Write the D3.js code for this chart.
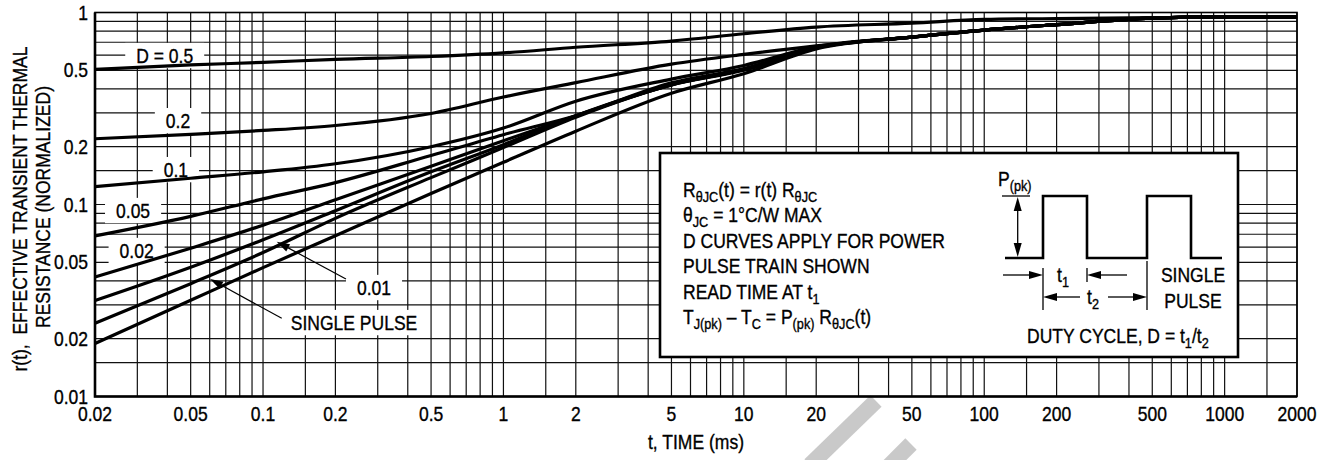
<!DOCTYPE html>
<html>
<head>
<meta charset="utf-8">
<script src="https://cdn.jsdelivr.net/npm/d3@7"></script>
<style>
  body { margin: 0; background: #fff; }
  svg text {
    font-family: "Liberation Sans", Arial, sans-serif;
    font-size: 20px;
    fill: #000;
    stroke: #000;
    stroke-width: 0.35px;
    white-space: pre;
  }
</style>
</head>
<body>
<svg id="chart" width="1330" height="460"></svg>
<script>
// t in ms, r(t) normalized
const timesMs = [0.02, 0.05, 0.1, 0.2, 0.5, 1, 2, 5, 10, 20, 50, 100, 200, 500, 1000, 2000];

const rD050 = [0.505, 0.533, 0.55, 0.57, 0.59, 0.616, 0.659, 0.71, 0.775, 0.84, 0.88, 0.92, 0.93, 0.94, 0.95, 0.95];
const rD020 = [0.22, 0.232, 0.243, 0.258, 0.298, 0.363, 0.431, 0.538, 0.605, 0.67, 0.745, 0.81, 0.865, 0.935, 0.95, 0.95];
const rD010 = [0.124, 0.137, 0.148, 0.163, 0.2, 0.25, 0.345, 0.45, 0.53, 0.665, 0.745, 0.81, 0.865, 0.935, 0.95, 0.95];
const rD005 = [0.0686, 0.0867, 0.107, 0.13, 0.18, 0.231, 0.29, 0.43, 0.51, 0.655, 0.745, 0.81, 0.865, 0.935, 0.95, 0.95];
const rD002 = [0.0419, 0.0592, 0.078, 0.106, 0.158, 0.215, 0.29, 0.42, 0.505, 0.655, 0.745, 0.81, 0.865, 0.935, 0.95, 0.95];
const rD001 = [0.0316, 0.0471, 0.0655, 0.0928, 0.148, 0.205, 0.29, 0.42, 0.505, 0.655, 0.745, 0.81, 0.865, 0.935, 0.95, 0.95];
const rSingle = [0.0241, 0.0387, 0.0562, 0.0847, 0.138, 0.198, 0.285, 0.42, 0.5, 0.655, 0.745, 0.81, 0.865, 0.935, 0.95, 0.95];
const rLowest = [0.0189, 0.0317, 0.0469, 0.0688, 0.114, 0.166, 0.241, 0.38, 0.48, 0.645, 0.745, 0.81, 0.865, 0.935, 0.95, 0.95];

const xTickValues = [0.02, 0.05, 0.1, 0.2, 0.5, 1, 2, 5, 10, 20, 50, 100, 200, 500, 1000, 2000];
const xTickLabels = ["0.02", "0.05", "0.1", "0.2", "0.5", "1", "2", "5", "10", "20", "50", "100", "200", "500", "1000", "2000"];
const yTickValues = [1, 0.5, 0.2, 0.1, 0.05, 0.02, 0.01];
const yTickLabels = ["1", "0.5", "0.2", "0.1", "0.05", "0.02", "0.01"];
const gridMantissas = [1, 1.5, 2, 3, 4, 5, 6, 7, 8, 9];

const series = [rD050, rD020, rD010, rD005, rD002, rD001, rSingle, rLowest];

// curve labels, anchored in data units (text centre, baseline)
const curveLabels = [
  { text: "D = 0.5", t: 0.039, r: 0.546 },
  { text: "0.2", t: 0.0443, r: 0.25 },
  { text: "0.1", t: 0.0434, r: 0.139 },
  { text: "0.05", t: 0.0288, r: 0.0851 },
  { text: "0.02", t: 0.0298, r: 0.0527 },
  { text: "0.01", t: 0.2895, r: 0.0338, from: [0.2213, 0.0409], to: [0.114, 0.064] },
  { text: "SINGLE PULSE", t: 0.239, r: 0.0222, from: [0.1196, 0.02555], to: [0.0602, 0.0409] },
];

const plot = { left: 95, right: 1297, top: 12.5, bottom: 396.5 };
// the sheet is set in a condensed face; squeeze the installed sans to match
const squeeze = 0.876;
const place = (px, py, rot = 0) =>
  `translate(${px},${py})${rot ? ` rotate(${rot})` : ""} scale(${squeeze},1)`;

const x = d3.scaleLog().domain([0.02, 2000]).range([plot.left, plot.right]);
const y = d3.scaleLog().domain([0.01, 1]).range([plot.bottom, plot.top]);

const svg = d3.select("#chart");
svg.append("rect").attr("width", 1330).attr("height", 460).attr("fill", "#fff");

// watermark stripes from the scanned sheet
svg.append("g")
  .attr("stroke", "#c9c9c9")
  .attr("stroke-width", 16)
  .selectAll("line")
  .data([[876, 401, 810, 465], [911, 444, 888, 467]])
  .join("line")
  .attr("x1", (d) => d[0]).attr("y1", (d) => d[1])
  .attr("x2", (d) => d[2]).attr("y2", (d) => d[3]);

function gridValues(lo, hi) {
  const out = [];
  for (let e = Math.floor(Math.log10(lo)); e <= Math.ceil(Math.log10(hi)); e++) {
    for (const m of gridMantissas) {
      const v = +(m * 10 ** e).toPrecision(3);
      if (v >= lo * 0.999 && v <= hi * 1.001) out.push(v);
    }
  }
  return out;
}

// grid
const grid = svg.append("g").attr("stroke", "#111").attr("stroke-width", 1.2);
grid.selectAll(".vx")
  .data(gridValues(0.02, 2000))
  .join("line")
  .attr("class", "vx")
  .attr("x1", (d) => x(d)).attr("x2", (d) => x(d))
  .attr("y1", plot.top).attr("y2", plot.bottom);
grid.selectAll(".hy")
  .data(gridValues(0.01, 1))
  .join("line")
  .attr("class", "hy")
  .attr("y1", (d) => y(d)).attr("y2", (d) => y(d))
  .attr("x1", plot.left).attr("x2", plot.right);

// frame: heavy left / bottom axis
svg.append("rect")
  .attr("x", plot.left).attr("y", plot.top)
  .attr("width", plot.right - plot.left).attr("height", plot.bottom - plot.top)
  .attr("fill", "none").attr("stroke", "#000").attr("stroke-width", 1.6);
svg.append("path")
  .attr("d", `M${plot.left},${plot.top}V${plot.bottom}H${plot.right}`)
  .attr("fill", "none").attr("stroke", "#000").attr("stroke-width", 2.6);

// curve label texts (measured first so their white knock-outs can sit under the curves)
const knockouts = svg.append("g");
const curvesG = svg.append("g");
const labelsG = svg.append("g");

const labelTexts = labelsG.selectAll("text")
  .data(curveLabels)
  .join("text")
  .attr("transform", (d) => place(x(d.t), y(d.r)))
  .attr("text-anchor", "middle")
  .text((d) => d.text);

labelTexts.each(function (d) {
  const b = this.getBBox();
  knockouts.append("rect")
    .attr("x", x(d.t) + b.x * squeeze - 11).attr("y", y(d.r) + b.y - 2)
    .attr("width", b.width * squeeze + 22).attr("height", b.height + 3)
    .attr("fill", "#fff");
});

const line = d3.line()
  .x((d) => x(d[0]))
  .y((d) => y(d[1]))
  .curve(d3.curveMonotoneX);

curvesG.selectAll("path")
  .data(series)
  .join("path")
  .attr("d", (vals) => line(timesMs.map((t, i) => [t, vals[i]])))
  .attr("fill", "none")
  .attr("stroke", "#000")
  .attr("stroke-width", 3.2)
  .attr("stroke-linejoin", "round");

function arrow(g, x1, y1, x2, y2, len = 13, half = 4, w = 1.3) {
  const a = Math.atan2(y2 - y1, x2 - x1);
  const bx = x2 - len * Math.cos(a);
  const by = y2 - len * Math.sin(a);
  g.append("line")
    .attr("x1", x1).attr("y1", y1).attr("x2", bx).attr("y2", by)
    .attr("stroke", "#000").attr("stroke-width", w);
  g.append("path")
    .attr("d", `M${x2},${y2}L${bx + half * Math.sin(a)},${by - half * Math.cos(a)}L${bx - half * Math.sin(a)},${by + half * Math.cos(a)}Z`)
    .attr("fill", "#000");
}

curveLabels.filter((d) => d.from).forEach((d) => {
  arrow(labelsG, x(d.from[0]), y(d.from[1]), x(d.to[0]), y(d.to[1]), 13, 4, 1.2);
});

// tick labels
svg.append("g")
  .selectAll("text")
  .data(xTickValues)
  .join("text")
  .attr("transform", (d) => place(x(d), 421))
  .attr("text-anchor", "middle")
  .text((d, i) => xTickLabels[i]);

svg.append("g")
  .selectAll("text")
  .data(yTickValues)
  .join("text")
  .attr("transform", (d) => place(88, y(d) + 7))
  .attr("text-anchor", "end")
  .text((d, i) => yTickLabels[i]);

// axis titles
svg.append("text")
  .attr("transform", place((plot.left + plot.right) / 2, 449))
  .attr("text-anchor", "middle")
  .text("t, TIME (ms)");

svg.append("text")
  .attr("transform", place(27, 209, -90))
  .attr("text-anchor", "middle")
  .text("r(t),  EFFECTIVE TRANSIENT THERMAL");
svg.append("text")
  .attr("transform", place(50, 207, -90))
  .attr("text-anchor", "middle")
  .text("RESISTANCE (NORMALIZED)");

// inset box with notes and the pulse train sketch
const box = svg.append("g").attr("transform", "translate(660,153)");
box.append("rect")
  .attr("width", 578).attr("height", 204)
  .attr("fill", "#fff").attr("stroke", "#000").attr("stroke-width", 2.6);

function richText(sel, parts) {
  let shift = 0;
  parts.forEach(([str, sub]) => {
    const target = sub ? 5 : 0;
    sel.append("tspan")
      .attr("dy", target - shift)
      .style("font-size", sub ? "14.5px" : null)
      .text(str);
    shift = target;
  });
  return sel;
}

const notes = [
  [["R"], ["θJC", 1], ["(t) = r(t) R"], ["θJC", 1]],
  [["θ"], ["JC", 1], [" = 1°C/W MAX"]],
  [["D CURVES APPLY FOR POWER"]],
  [["PULSE TRAIN SHOWN"]],
  [["READ TIME AT t"], ["1", 1]],
  [["T"], ["J(pk)", 1], [" – T"], ["C", 1], [" = P"], ["(pk)", 1], [" R"], ["θJC", 1], ["(t)"]],
];
notes.forEach((parts, i) => {
  richText(box.append("text").attr("transform", place(23, 44 + i * 25.4)), parts);
});

// pulse train
const pBase = 105, pTop = 43;
const pulse = [[345, pBase], [383, pBase], [383, pTop], [427, pTop], [427, pBase],
  [487, pBase], [487, pTop], [531, pTop], [531, pBase], [562, pBase]];
box.append("path")
  .attr("d", d3.line()(pulse))
  .attr("fill", "none").attr("stroke", "#000").attr("stroke-width", 2.6);

box.append("line").attr("x1", 342).attr("x2", 370).attr("y1", pTop).attr("y2", pTop)
  .attr("stroke", "#000").attr("stroke-width", 1.3);
arrow(box, 357.7, 74, 357.7, pTop + 1, 14, 4);
arrow(box, 357.7, 74, 357.7, pBase - 1, 14, 4);
richText(box.append("text").attr("transform", place(338, 33)), [["P"], ["(pk)", 1]]);

// t1 / t2 dimension marks
const tick = (xx, y1, y2) => box.append("line")
  .attr("x1", xx).attr("x2", xx).attr("y1", y1).attr("y2", y2)
  .attr("stroke", "#000").attr("stroke-width", 1.3);
tick(383, 115, 157);
tick(427, 115, 129);
tick(487, 108, 157);

arrow(box, 343, 122, 383, 122, 14, 4);
arrow(box, 467, 122, 427, 122, 14, 4);
richText(box.append("text").attr("transform", place(397, 129)), [["t"], ["1", 1]]);

arrow(box, 420, 144, 383, 144, 14, 4);
arrow(box, 448, 144, 487, 144, 14, 4);
richText(box.append("text").attr("transform", place(427, 151)), [["t"], ["2", 1]]);

box.append("text").attr("transform", place(533, 129)).attr("text-anchor", "middle").text("SINGLE");
box.append("text").attr("transform", place(533, 155)).attr("text-anchor", "middle").text("PULSE");

richText(box.append("text").attr("transform", place(367, 190)),
  [["DUTY CYCLE, D = t"], ["1", 1], ["/t"], ["2", 1]]);
</script>
</body>
</html>
